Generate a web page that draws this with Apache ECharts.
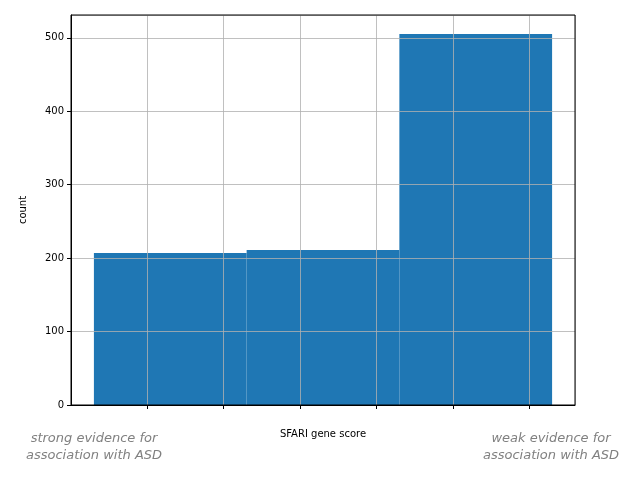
<!DOCTYPE html>
<html><head><meta charset="utf-8">
<script src="https://cdn.jsdelivr.net/npm/echarts@6/dist/echarts.min.js"></script>
<style>html,body{margin:0;padding:0;background:#fff}#c{width:640px;height:480px}</style>
</head><body><div id="c"></div>
<script>
const binStarts = [1, 2, 3];
const binEnds = [2, 3, 4];
const counts = [207, 211, 505];
const xTicks = [1.0, 1.5, 2.0, 2.5, 3.0, 3.5, 4.0];

const chart = echarts.init(document.getElementById('c'));
const data = counts.map((c, i) => [binStarts[i], binEnds[i], c]);
const font = 'DejaVu Sans';
chart.setOption({
  animation: false,
  grid: {left: 71, right: 65, top: 15, bottom: 75, show: false},
  xAxis: {
    type: 'value', min: 0.85, max: 4.15, interval: 0.5, z: 5,
    axisLine: {show: true, onZero: false, lineStyle: {color: '#000'}},
    axisTick: {show: true, length: 4, lineStyle: {color: '#000'}},
    axisLabel: {color: '#000', fontFamily: font, fontSize: 10, margin: 7,
      showMinLabel: false, showMaxLabel: false,
      formatter: v => xTicks.some(t => Math.abs(t - v) < 1e-6) ? v.toFixed(1) : ''},
    splitLine: {show: true, lineStyle: {color: 'rgba(176,176,176,0.8)', width: 1}},
    customValues: undefined,
    name: 'SFARI gene score', nameLocation: 'middle', nameGap: 24,
    nameTextStyle: {color: '#000', fontFamily: font, fontSize: 10}
  },
  yAxis: {
    type: 'value', min: 0, max: 531, interval: 100, z: 5,
    axisLine: {show: true, lineStyle: {color: '#000'}},
    axisTick: {show: true, length: 4, lineStyle: {color: '#000'}},
    axisLabel: {color: '#000', fontFamily: font, fontSize: 10, margin: 7, showMaxLabel: false},
    splitLine: {show: true, lineStyle: {color: 'rgba(176,176,176,0.8)', width: 1}},
    name: 'count', nameLocation: 'middle', nameGap: 43, nameRotate: 90,
    nameTextStyle: {color: '#000', fontFamily: font, fontSize: 10}
  },
  series: [{
    type: 'custom', z: 2,
    renderItem: (params, api) => {
      const p0 = api.coord([api.value(0), api.value(2)]);
      const p1 = api.coord([api.value(1), 0]);
      return {type: 'rect', shape: {x: p0[0], y: p0[1], width: p1[0] - p0[0], height: p1[1] - p0[1]},
        style: {fill: '#1f77b4'}};
    },
    encode: {x: [0, 1], y: 2},
    data: data
  }],
  graphic: [
    {type: 'rect', shape: {x: 71, y: 15, width: 504, height: 390}, style: {fill: 'none', stroke: '#000', lineWidth: 1}, z: 10, silent: true},
    {type: 'text', x: 94, y: 430, style: {text: 'strong evidence for\nassociation with ASD', fill: '#808080', font: 'italic 13px DejaVu Sans', align: 'center', lineHeight: 17}},
    {type: 'text', x: 551, y: 430, style: {text: 'weak evidence for\nassociation with ASD', fill: '#808080', font: 'italic 13px DejaVu Sans', align: 'center', lineHeight: 17}}
  ]
});
</script></body></html>
